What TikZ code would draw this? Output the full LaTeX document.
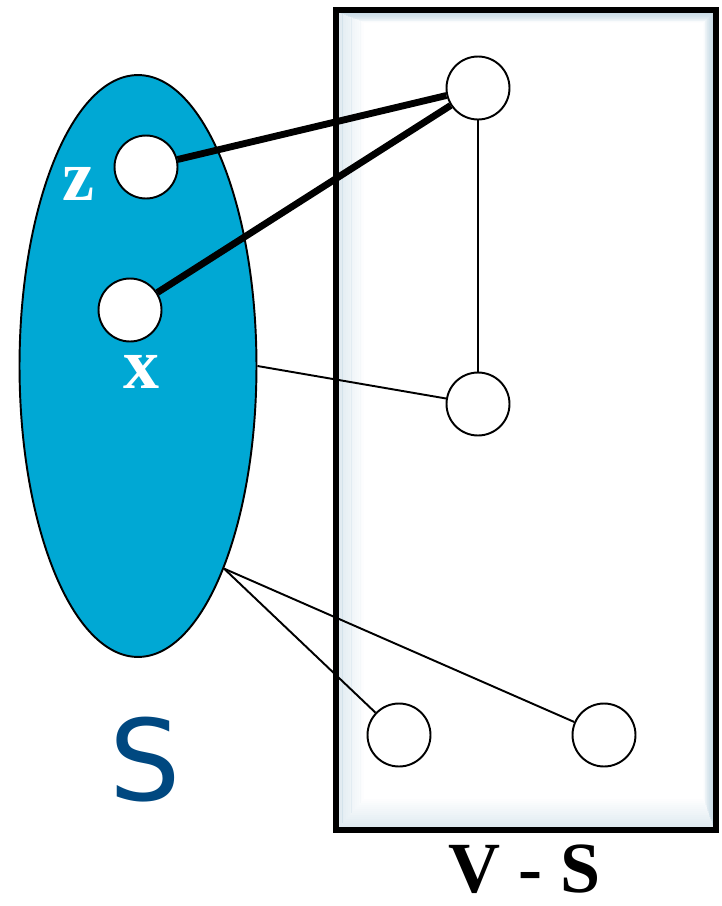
\documentclass[tikz,border=0pt]{standalone}
\usepackage{fontspec}
\setmainfont{Liberation Serif}
\newfontfamily\labelsans{DejaVu Sans}
\usepackage{xcolor}
\usetikzlibrary{shapes.geometric,positioning}

\definecolor{setblue}{RGB}{0,168,212}
\definecolor{setlabel}{RGB}{0,72,128}
\definecolor{shadowgray}{RGB}{190,212,225}

\begin{document}
\begin{tikzpicture}[
    x=0.02cm, y=-0.02cm,
    vertex/.style={circle, draw=black, fill=white, line width=1.1pt, minimum size=1.26cm, inner sep=0pt},
    setS/.style={ellipse, draw=black, fill=setblue, line width=1.1pt, minimum width=4.74cm, minimum height=11.64cm, inner sep=0pt},
    heavy/.style={line width=3.9pt, draw=black},
    light/.style={line width=1.1pt, draw=black},
    vlabel/.style={text=white, font=\fontsize{41}{41}\selectfont\bfseries, inner sep=0pt}
]
    \useasboundingbox (0,0) rectangle (721,906);

    % Box V - S with its soft inner shadow
    \foreach \i in {0,...,14}
        \draw [draw=shadowgray, line width=1.2pt, opacity={0.5*(1-\i/15)}]
            ({338+1.8*\i},{12+0.7*\i}) rectangle ({714-0.7*\i},{828-2*\i});
    \node (box) at (526,420) [draw=black, line width=3pt, minimum width=7.6cm, minimum height=16.4cm, inner sep=0pt] {};

    % Set S
    \node (S) at (138,366) [setS] {};

    % Vertices
    \node (z) at (146,167) [vertex] {};
    \node (x) at (130,310) [vertex] {};
    \node (top) at (478,88) [vertex] {};
    \node (mid) at (478,404) [vertex] {};
    \node (botl) at (399,735) [vertex] {};
    \node (botr) at (604,735) [vertex] {};

    % Labels
    \node (zlab) at (78,184) [vlabel] {z};
    \node (xlab) at (142,372) [vlabel] {x};
    \node (slab) at (145,760) [text=setlabel, font=\labelsans\fontsize{64}{64}\selectfont, inner sep=0pt] {S};
    \node (vslab) at (525,892) [anchor=base, font=\fontsize{41}{41}\selectfont\bfseries, inner sep=0pt] {V - S};

    % Edges
    \draw [heavy] (z) -- (top);
    \draw [heavy] (x) -- (top);
    \draw [light] (top) -- (mid);
    \draw [light] (S.east) -- (mid);
    \draw [light] (S.-67) -- (botl);
    \draw [light] (S.-67) -- (botr);

\end{tikzpicture}
\end{document}
